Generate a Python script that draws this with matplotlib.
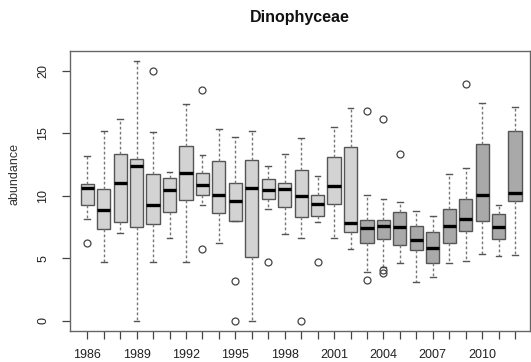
import numpy as np
import matplotlib.pyplot as plt

plt.rcParams['font.family'] = ['Liberation Sans', 'DejaVu Sans']

years = list(range(1986, 2013))
whislo = [8.14, 4.73, 7.05, 0.0, 4.73, 6.65, 4.73, 9.24, 6.19, 7.98, 0.0, 8.92, 6.92,
          6.65, 7.93, 6.65, 5.74, 3.90, 4.33, 4.59, 3.07, 3.52, 4.59, 4.81, 5.34, 5.15, 5.29]
q1 = [9.29, 7.34, 7.93, 7.53, 7.72, 8.68, 9.64, 10.07, 8.60, 7.98, 5.13, 9.75, 9.13,
      8.28, 8.36, 9.37, 7.10, 6.19, 6.52, 6.09, 5.69, 4.59, 6.19, 7.18, 7.98, 6.52, 9.61]
med = [10.65, 8.89, 11.00, 12.36, 9.24, 10.49, 11.80, 10.89, 10.09, 9.59, 10.65, 10.49, 10.57,
       9.96, 9.37, 10.81, 7.85, 7.40, 7.58, 7.53, 6.49, 5.82, 7.58, 8.12, 10.07, 7.50, 10.25]
q3 = [10.92, 10.57, 13.32, 12.92, 11.72, 11.38, 13.99, 11.80, 12.74, 11.00, 12.87, 11.35, 11.05,
      12.07, 10.09, 13.08, 13.91, 8.06, 8.04, 8.68, 7.56, 7.10, 8.95, 9.75, 14.13, 8.54, 15.14]
whishi = [13.14, 15.17, 16.18, 20.75, 15.06, 11.86, 17.33, 13.22, 15.35, 14.71, 15.17, 12.36, 13.32,
          14.60, 11.59, 15.51, 17.01, 10.09, 9.75, 9.51, 8.81, 8.38, 11.75, 12.18, 17.41, 9.29, 17.12]
fliers = [[6.19], [], [], [], [20.0], [], [], [18.48, 5.71], [], [3.2, 0.0], [], [4.7], [],
          [0.0], [4.7], [], [], [16.8, 3.28], [16.15, 4.06, 3.79], [13.35], [], [], [], [18.93],
          [], [], []]
dark_from = 2003

stats = []
for i in range(len(years)):
    stats.append(dict(med=med[i], q1=q1[i], q3=q3[i], whislo=whislo[i], whishi=whishi[i],
                      fliers=fliers[i]))

fig = plt.figure(figsize=(5.31, 3.62), dpi=100)
ax = fig.add_axes([0.1318, 0.0856, 0.866, 0.7734])

pos = np.arange(len(years))
bp = ax.bxp(stats, positions=pos, widths=0.8, capwidths=0.35, patch_artist=True,
            boxprops=dict(edgecolor='#555555', linewidth=1.0),
            medianprops=dict(color='black', linewidth=2.4, solid_capstyle='butt'),
            whiskerprops=dict(color='#777777', linewidth=1.0, linestyle=(0, (2, 1.6))),
            capprops=dict(color='#555555', linewidth=1.0),
            flierprops=dict(marker='o', markersize=5, markerfacecolor='none',
                            markeredgecolor='#444444', markeredgewidth=0.9))
for yr, box in zip(years, bp['boxes']):
    box.set_facecolor('#A9A9A9' if yr >= dark_from else '#D3D3D3')

ax.set_xlim(-1.05, 26.9)
ax.set_ylim(-0.83, 21.58)
ax.set_xticks(pos)
ax.set_xticklabels([str(y) if (y - 1986) % 3 == 0 else '' for y in years])
ax.set_yticks([0, 5, 10, 15, 20])
ax.set_yticklabels(['0', '5', '10', '15', '20'], rotation=90, va='center')
ax.tick_params(axis='both', length=6, width=0.9, color='#444444', labelsize=9,
               labelcolor='#222222')
ax.tick_params(axis='x', pad=7)
ax.tick_params(axis='y', pad=9)
for s in ax.spines.values():
    s.set_color('#666666')
    s.set_linewidth(1.0)

fig.text(0.565, 0.953, 'Dinophyceae', ha='center', va='center', fontsize=11.5,
         fontweight='bold', color='#111111')
fig.text(0.028, 0.52, 'abundance', rotation=90, ha='center', va='center', fontsize=9,
         color='#333333')

fig.savefig('out.png', dpi=100)
